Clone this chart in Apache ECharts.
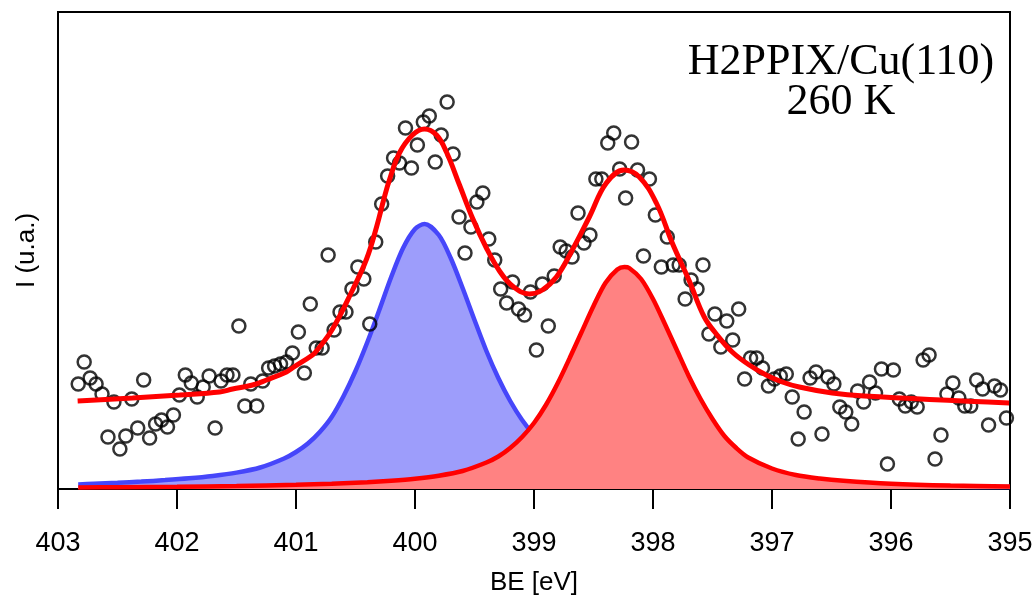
<!DOCTYPE html>
<html>
<head>
<meta charset="utf-8">
<script src="https://cdn.jsdelivr.net/npm/echarts@6/dist/echarts.min.js"></script>
<style>html,body{margin:0;padding:0;background:#fff}#c{width:1035px;height:595px}</style>
</head>
<body>
<div id="c"></div>
<script>
// Measured points: binding energy (eV) and intensity (arbitrary units)
const pointBE = [402.83,402.78,402.73,402.68,402.63,402.58,402.53,402.48,402.43,402.38,
402.33,402.28,402.23,402.18,402.13,402.08,402.03,401.98,401.93,401.88,
401.83,401.78,401.73,401.68,401.63,401.58,401.53,401.48,401.43,401.38,
401.33,401.28,401.23,401.18,401.13,401.08,401.03,400.98,400.93,400.88,
400.83,400.78,400.73,400.68,400.63,400.58,400.53,400.48,400.43,400.38,
400.33,400.28,400.23,400.18,400.13,400.08,400.03,399.98,399.93,399.88,
399.83,399.78,399.73,399.68,399.63,399.58,399.53,399.48,399.43,399.38,
399.33,399.28,399.23,399.18,399.13,399.08,399.03,398.98,398.93,398.88,
398.83,398.78,398.73,398.68,398.63,398.58,398.53,398.48,398.43,398.38,
398.33,398.28,398.23,398.18,398.13,398.08,398.03,397.98,397.93,397.88,
397.83,397.78,397.73,397.68,397.63,397.58,397.53,397.48,397.43,397.38,
397.33,397.28,397.23,397.18,397.13,397.08,397.03,396.98,396.93,396.88,
396.83,396.78,396.73,396.68,396.63,396.58,396.53,396.48,396.43,396.38,
396.33,396.28,396.23,396.18,396.13,396.08,396.03,395.98,395.93,395.88,
395.83,395.78,395.73,395.68,395.63,395.58,395.53,395.48,395.43,395.38,
395.33,395.28,395.23,395.18,395.13,395.08,395.03];
const pointI = [105,127,111,105,95,52,87,40,53,90,
61,109,51,65,69,62,74,94,114,106,
92,102,113,61,108,114,114,163,83,105,
83,108,121,123,125,127,136,157,116,185,
141,141,234,159,177,177,200,222,210,165,
247,285,313,331,326,361,321,344,367,373,
327,354,387,335,272,236,262,287,296,250,
229,200,186,207,180,174,197,139,205,163,
213,242,238,232,276,246,254,310,310,346,
356,320,291,347,319,233,310,274,222,252,
224,224,190,209,200,224,155,175,142,168,
149,180,110,131,131,121,103,110,113,115,
92,50,77,111,117,55,112,105,82,77,
65,98,87,107,96,120,25,119,90,83,
87,82,129,134,30,54,95,106,91,83,
83,109,100,64,103,99,71];

// Fit envelope (background + components)
const envBE = [402.835,402.373,401.978,401.642,401.533,401.365,401.248,401.080,401.030,400.861,400.828,400.693,400.525,400.407,400.323,400.257,400.215,400.131,400.021,399.920,399.819,399.736,399.626,399.517,399.400,399.290,399.181,399.039,398.930,398.812,398.678,398.535,398.392,398.241,398.115,397.972,397.838,397.695,397.569,397.468,397.334,397.191,397.049,396.914,396.771,396.494,396.225,395.007];
const envI  = [88,91,94,97,100,104,109,117,121,134,138,160,199,230,262,292,309,336,354,360,354,337,304,271,241,218,203,195,199,212,239,272,306,319,312,286,246,208,172,155,137,124,114,107,102,96,93,86];

// Component 1 (blue, ~399.9 eV)
const blueBE = [402.83,402.7,402.5,402.3,402.1,401.9,401.7,401.5,401.3,401.1,401.0,400.9,400.8,400.7,400.6,400.5,400.4,400.3,400.2,400.1,400.0,399.92,399.8,399.7,399.6,399.5,399.4,399.3,399.2,399.1,399.0,398.9,398.8,398.7,398.6,398.5,398.4,398.2,398.0,397.8,397.5,397.2,396.8,396.4,396.0,395.5,395.0];
const blueI  = [4.6,5.3,6.3,7.4,8.9,10.7,13.1,16.4,21.5,30.5,37,45.5,57,72,93,118,147,179,212,241,260,265,254,231,201,169,138,111,88,69,54,43,34.5,28.5,24,20.6,17.9,14.1,11.5,9.5,7.4,5.9,4.5,3.6,2.9,2.3,1.9];

// Component 2 (red, ~398.2 eV)
const redBE = [402.83,402.5,402.0,401.5,401.0,400.7,400.4,400.2,400.0,399.8,399.6,399.4,399.3,399.2,399.1,399.0,398.9,398.8,398.7,398.6,398.5,398.4,398.3,398.24,398.2,398.1,398.0,397.9,397.8,397.7,397.6,397.5,397.4,397.3,397.2,397.0,396.8,396.6,396.4,396.0,395.5,395.0];
const redI  = [1.5,1.8,2.3,3.0,4.2,5.2,6.8,8.3,10.3,13.3,18,26.5,32.5,41,52,66,84,106,131,157,183,206,219.5,222,221,210,190,165,139,113,90,70,53,41,31.5,20.5,14,10.5,8.2,5.3,3.4,2.4];

const xTicks = {min: 395, max: 403, step: 1};
const titleLines = ['H2PPIX/Cu(110)', '260 K'];

const zip = (a, b) => a.map((v, i) => [v, b[i]]);
const sans = '"Liberation Sans", Arial, sans-serif';
const serif = '"Liberation Serif", "Times New Roman", serif';

const chart = echarts.init(document.getElementById('c'), null, {renderer: 'canvas'});
chart.setOption({
  animation: false,
  backgroundColor: '#fff',
  grid: {left: 58, right: 25, top: 12, bottom: 106, containLabel: false, outerBoundsMode: 'none',
         show: true, borderColor: '#000', borderWidth: 2, backgroundColor: 'transparent'},
  xAxis: {
    type: 'value', inverse: true, min: xTicks.min, max: xTicks.max, interval: xTicks.step,
    name: 'BE [eV]', nameLocation: 'middle', nameGap: 81,
    nameTextStyle: {fontSize: 26, color: '#000', fontFamily: sans},
    axisLine: {show: true, onZero: false, lineStyle: {color: '#000', width: 2}},
    axisTick: {show: true, length: 20, lineStyle: {color: '#000', width: 2}},
    axisLabel: {fontSize: 27, color: '#000', margin: 41, fontFamily: sans},
    splitLine: {show: false}
  },
  yAxis: {
    type: 'value', min: 0, max: 477,
    name: 'I (u.a.)', nameLocation: 'middle', nameGap: 18, nameRotate: 90,
    nameTextStyle: {fontSize: 26, color: '#000', fontFamily: sans},
    axisLine: {show: false}, axisTick: {show: false}, axisLabel: {show: false}, splitLine: {show: false}
  },
  series: [
    {type: 'line', data: zip(blueBE, blueI), smooth: 0.3, showSymbol: false, z: 2,
     lineStyle: {color: '#4646fa', width: 4.5}, areaStyle: {color: '#9d9dfb', opacity: 1}},
    {type: 'line', data: zip(redBE, redI), smooth: 0.3, showSymbol: false, z: 3,
     lineStyle: {color: '#ff0000', width: 4.5}, areaStyle: {color: '#ff8282', opacity: 1}},
    {type: 'scatter', data: zip(pointBE, pointI), symbol: 'circle', symbolSize: 13, z: 4,
     itemStyle: {color: 'rgba(0,0,0,0)', borderColor: '#000', borderWidth: 2.5}},
    {type: 'line', data: zip(envBE, envI), smooth: 0.4, showSymbol: false, z: 5,
     lineStyle: {color: '#ff0000', width: 5}}
  ],
  graphic: [
    {type: 'text', z: 10, style: {text: titleLines[0], x: 841, y: 62, font: '44px ' + serif, textAlign: 'center', textVerticalAlign: 'middle', align: 'center', verticalAlign: 'middle', fill: '#000'}},
    {type: 'text', z: 10, style: {text: titleLines[1], x: 841, y: 102, font: '44px ' + serif, textAlign: 'center', textVerticalAlign: 'middle', align: 'center', verticalAlign: 'middle', fill: '#000'}}
  ]
});
</script>
</body>
</html>
